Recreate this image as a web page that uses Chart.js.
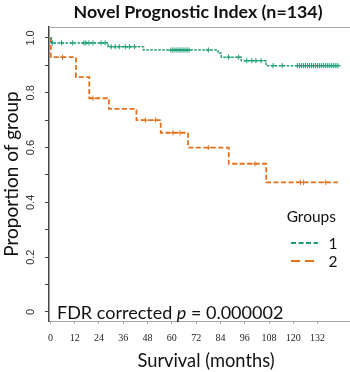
<!DOCTYPE html>
<html>
<head>
<meta charset="utf-8">
<script src="https://cdn.jsdelivr.net/npm/chart.js@4.4.1/dist/chart.umd.min.js"></script>
<style>
  html, body { margin: 0; padding: 0; background: #fff; }
  #wrap { width: 350px; height: 372px; }
</style>
</head>
<body>
<div id="wrap"><canvas id="kmChart" width="350" height="372"></canvas></div>
<script>
// Kaplan-Meier steps (time in months, survival proportion)
const group1Times = [0, 0.5, 28.5, 46, 82.8, 84.4, 94.3, 106.5, 142.8];
const group1Surv = [1, 0.982, 0.968, 0.956, 0.944, 0.930, 0.917, 0.899, 0.899];
const group1Censored = [1, 5.5, 11, 16.5, 17.5, 19, 21, 25, 27,
    30, 32, 34, 37, 39, 41.5,
    59.5, 60.5, 61.5, 62.5, 63.5, 64.5, 65.5, 66.5, 67.5, 68.5, 78,
    88, 93, 97, 99.5, 101.5, 104,
    110, 114.5, 122, 123, 124, 125, 126, 127, 128, 129, 130, 131, 132,
    133, 134, 135, 136, 137, 138, 139, 140, 141, 142];

const group2Times = [0, 0.2, 12.6, 19.2, 28.9, 42.5, 54.5, 68, 88.1, 106.6, 142];
const group2Surv = [1, 0.93, 0.857, 0.78, 0.741, 0.70, 0.654, 0.60, 0.541, 0.473, 0.473];
const group2Censored = [6, 21, 47, 52, 60.5, 64, 78, 101, 123.5, 125, 136];

const xTicks = [0, 12, 24, 36, 48, 60, 72, 84, 96, 108, 120, 132];
const yTicks = [0, 0.1, 0.2, 0.3, 0.4, 0.5, 0.6, 0.7, 0.8, 0.9, 1.0];
const yLabelValues = [0, 0.2, 0.4, 0.6, 0.8, 1.0];
const yLabelTexts = ["0", "0.2", "0.4", "0.6", "0.8", "1.0"];
const groupNames = ["1", "2"];

const green = "#1b9e77";
const orange = "#e2711d";
const textColor = "#111";
const fontMain = "Lato, 'Open Sans', sans-serif";

function levelAt(times, surv, t) {
    let v = surv[0];
    for (let i = 0; i < times.length; i++) {
        if (times[i] <= t) v = surv[i];
    }
    return v;
}

function toPoints(times, surv) {
    let pts = [];
    for (let i = 0; i < times.length; i++) pts.push({ x: times[i], y: surv[i] });
    return pts;
}

function censorPoints(censored, times, surv) {
    let pts = [];
    for (let i = 0; i < censored.length; i++) {
        pts.push({ x: censored[i], y: levelAt(times, surv, censored[i]) });
    }
    return pts;
}

const decoracoes = {
    id: "decoracoes",
    afterDraw(chart) {
        const ctx = chart.ctx;
        const area = chart.chartArea;
        const yScale = chart.scales.y;
        ctx.save();

        // top frame line
        ctx.strokeStyle = "#a8a8a8";
        ctx.lineWidth = 1;
        ctx.beginPath();
        ctx.moveTo(area.left, area.top + 0.5);
        ctx.lineTo(area.right, area.top + 0.5);
        ctx.stroke();

        // title
        ctx.fillStyle = textColor;
        ctx.font = "bold 17.8px " + fontMain;
        ctx.textAlign = "center";
        ctx.textBaseline = "middle";
        ctx.fillText("Novel Prognostic Index (n=134)", 198, 12);

        // rotated y tick labels
        ctx.font = "11px 'Liberation Sans', Arial, sans-serif";
        ctx.fillStyle = "#333";
        for (let i = 0; i < yLabelValues.length; i++) {
            const py = yScale.getPixelForValue(yLabelValues[i]);
            ctx.save();
            ctx.translate(31, py);
            ctx.rotate(-Math.PI / 2);
            ctx.textAlign = "center";
            ctx.textBaseline = "middle";
            ctx.fillText(yLabelTexts[i], 0, 0);
            ctx.restore();
        }

        // x axis title
        ctx.fillStyle = textColor;
        ctx.font = "18.3px " + fontMain;
        ctx.textAlign = "center";
        ctx.textBaseline = "middle";
        ctx.fillText("Survival (months)", 206, 361);

        // p-value note
        ctx.textAlign = "left";
        ctx.textBaseline = "alphabetic";
        ctx.font = "18px " + fontMain;
        let x = 57;
        const by = 319;
        const a = "FDR corrected ";
        ctx.fillText(a, x, by);
        x += ctx.measureText(a).width;
        ctx.font = "italic 18px " + fontMain;
        ctx.fillText("p", x, by);
        x += ctx.measureText("p").width;
        ctx.font = "18px " + fontMain;
        ctx.fillText(" = 0.000002", x, by);

        // legend
        ctx.font = "15.5px " + fontMain;
        ctx.textAlign = "right";
        ctx.textBaseline = "middle";
        ctx.fillText("Groups", 336, 217);
        const legendColors = [green, orange];
        const legendDash = [[5, 2.5], [9, 5]];
        const legendY = [243, 261];
        for (let i = 0; i < groupNames.length; i++) {
            ctx.strokeStyle = legendColors[i];
            ctx.lineWidth = 2;
            ctx.setLineDash(legendDash[i]);
            ctx.beginPath();
            ctx.moveTo(291, legendY[i]);
            ctx.lineTo(318, legendY[i]);
            ctx.stroke();
            ctx.setLineDash([]);
            ctx.fillStyle = textColor;
            ctx.textAlign = "center";
            ctx.fillText(groupNames[i], 333, legendY[i] + 1);
        }
        ctx.restore();
    }
};

new Chart(document.getElementById("kmChart"), {
    type: "scatter",
    data: {
        datasets: [
            {
                label: "1",
                data: toPoints(group1Times, group1Surv),
                showLine: true,
                stepped: "before",
                borderColor: green,
                borderWidth: 1.5,
                borderDash: [2.5, 1.5],
                pointRadius: 0
            },
            {
                label: "1 censored",
                data: censorPoints(group1Censored, group1Times, group1Surv),
                showLine: false,
                pointStyle: "cross",
                pointRadius: 2.6,
                borderColor: green,
                borderWidth: 1
            },
            {
                label: "2",
                data: toPoints(group2Times, group2Surv),
                showLine: true,
                stepped: "before",
                borderColor: orange,
                borderWidth: 1.8,
                borderDash: [5, 2.5],
                pointRadius: 0
            },
            {
                label: "2 censored",
                data: censorPoints(group2Censored, group2Times, group2Surv),
                showLine: false,
                pointStyle: "cross",
                pointRadius: 2.6,
                borderColor: orange,
                borderWidth: 1
            }
        ]
    },
    options: {
        responsive: false,
        animation: false,
        layout: { padding: { top: 27, left: 0, right: 0, bottom: 0 }, autoPadding: false },
        plugins: {
            legend: { display: false },
            title: { display: false },
            tooltip: { enabled: false }
        },
        scales: {
            x: {
                type: "linear",
                min: -0.7,
                max: 148,
                afterBuildTicks: (scale) => { scale.ticks = xTicks.map(v => ({ value: v })); },
                afterFit: (scale) => { scale.height = 51; },
                grid: { drawOnChartArea: false, drawTicks: true, tickLength: 3, color: "#aaa" },
                border: { display: true, color: "#a8a8a8", width: 1 },
                ticks: {
                    autoSkip: false,
                    maxRotation: 0,
                    padding: 8,
                    color: "#222",
                    font: { family: "'Liberation Serif', serif", size: 10 }
                }
            },
            y: {
                type: "linear",
                min: -0.033,
                max: 1.04,
                afterBuildTicks: (scale) => { scale.ticks = yTicks.map(v => ({ value: v })); },
                afterFit: (scale) => { scale.width = 49; },
                grid: { drawOnChartArea: false, drawTicks: true, tickLength: 4, color: "#444" },
                border: { display: true, color: "#444", width: 1.5 },
                ticks: { display: false },
                title: {
                    display: true,
                    text: "Proportion of group",
                    color: textColor,
                    padding: 0,
                    font: { family: fontMain, size: 19 }
                }
            }
        }
    },
    plugins: [decoracoes]
});
</script>
</body>
</html>
